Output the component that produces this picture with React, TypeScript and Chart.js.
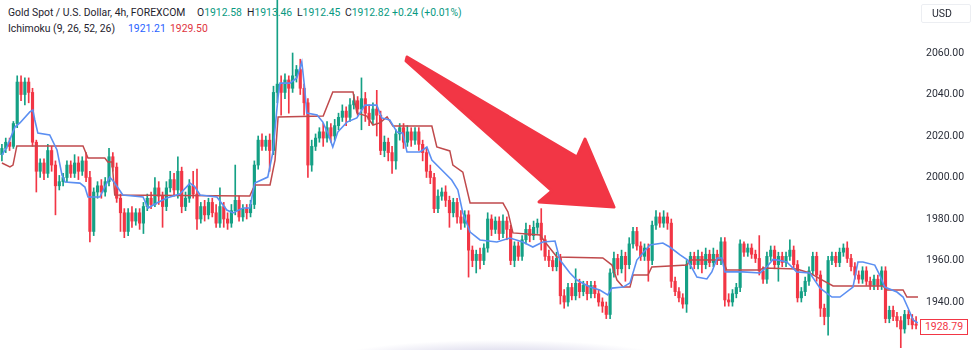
import React, { useEffect, useRef } from "react";
import { Chart, registerables } from "chart.js";
Chart.register(...registerables);

const opens = [
  2011,2014,2017,2015,2026,2046,2040,2046,2041,2017,
  2003,2007,2002,2013,2006,1996,1998,2000,2006,2002,
  2007,2003,2008,2000,1974,1993,1996,1993,1998,2010,
  2005,1990,1983,1974,1983,1979,1983,1978,1986,1990,
  1987,1995,1991,1986,1995,1999,1994,2003,1986,1990,
  1996,1992,1980,1986,1982,1988,1983,1978,1986,1980,
  1978,1984,1989,1981,1985,1983,1987,2006,2018,2015,
  2018,2013,2041,2045,2041,2047,2043,2049,2052,2043,
  2036,2006,2015,2019,2022,2019,2024,2020,2025,2029,
  2032,2029,2035,2037,2033,2038,2031,2028,2033,2030,
  2013,2017,2012,2008,2021,2024,2017,2022,2018,2022,
  2016,2012,2003,2000,1985,1991,1993,1989,1983,1988,
  1981,1978,1982,1965,1960,1963,1960,1966,1980,1975,
  1979,1973,1979,1975,1960,1967,1962,1970,1975,1972,
  1976,1978,1970,1962,1960,1957,1961,1943,1940,1947,
  1943,1949,1945,1948,1944,1948,1944,1940,1938,1934,
  1954,1961,1956,1962,1958,1968,1974,1967,1962,1966,
  1960,1977,1981,1978,1981,1978,1950,1945,1942,1939,
  1958,1962,1958,1962,1958,1963,1959,1963,1960,1969,
  1941,1940,1944,1947,1968,1964,1966,1963,1961,1955,
  1951,1962,1965,1958,1962,1959,1962,1965,1958,1942,
  1945,1950,1955,1962,1953,1937,1933,1960,1962,1959,
  1964,1966,1961,1957,1953,1951,1955,1950,1948,1951,
  1948,1955,1932,1936,1933,1931,1927,1934,1932,1929,
];

const highs = [
  2016,2019,2019,2027,2049,2049,2048,2048,2043,2018,
  2009,2009,2016,2015,2008,2001,2002,2008,2008,2011,
  2010,2010,2012,2003,1995,1998,1999,2000,2014,2012,
  2007,1992,1985,1985,1986,1985,1985,1988,1992,1993,
  2000,1998,1993,1998,2003,2002,2010,2005,1993,1999,
  2003,2004,1988,1989,1990,1990,1987,1995,1988,1983,
  1987,2006,1991,1987,1987,1989,2008,2020,2021,2020,
  2021,2044,2086,2049,2050,2049,2060,2054,2057,2045,
  2038,2018,2021,2024,2026,2027,2026,2028,2031,2035,
  2034,2038,2040,2039,2048,2041,2035,2036,2042,2032,
  2020,2019,2015,2023,2026,2026,2025,2024,2024,2024,
  2018,2014,2006,2002,1994,1995,1996,1991,1990,1990,
  1984,1984,1984,1967,1965,1966,1968,1983,1982,1981,
  1981,1982,1981,1977,1969,1969,1972,1978,1977,1979,
  1980,1985,1972,1965,1962,1964,1963,1946,1949,1949,
  1956,1951,1950,1950,1950,1950,1946,1942,1940,1956,
  1964,1963,1965,1964,1971,1976,1976,1969,1968,1968,
  1979,1984,1983,1984,1983,1980,1952,1947,1944,1960,
  1964,1964,1965,1964,1966,1965,1966,1965,1971,1971,
  1944,1946,1949,1970,1969,1968,1968,1965,1972,1957,
  1964,1967,1967,1964,1964,1964,1970,1967,1960,1947,
  1952,1957,1964,1964,1955,1939,1962,1964,1964,1966,
  1968,1969,1963,1959,1955,1957,1957,1952,1953,1953,
  1957,1957,1938,1938,1935,1933,1936,1936,1934,1933,
];

const lows = [
  2008,2012,2013,2014,2024,2037,2035,2036,2015,1993,
  2000,1999,2000,2003,1982,1994,1996,1998,2000,2000,
  1999,2001,1998,1969,1972,1990,1990,1991,1996,2003,
  1988,1974,1971,1972,1976,1977,1975,1973,1984,1985,
  1986,1987,1976,1984,1993,1991,1990,1983,1984,1988,
  1990,1975,1978,1979,1980,1981,1976,1976,1976,1975,
  1976,1982,1979,1979,1980,1981,1985,2004,2013,2013,
  2003,2011,2036,2030,2038,2031,2041,2046,2040,2030,
  2000,2003,2013,2017,2015,2017,2017,2018,2023,2027,
  2025,2027,2033,2030,2023,2027,2025,2026,2020,2011,
  2010,2008,2002,2004,2018,2014,2015,2015,2016,2013,
  2008,2000,1997,1983,1983,1989,1986,1976,1981,1978,
  1975,1976,1952,1957,1954,1956,1958,1964,1972,1973,
  1970,1971,1970,1958,1957,1960,1960,1968,1969,1970,
  1973,1965,1960,1957,1955,1955,1939,1937,1938,1941,
  1941,1942,1943,1941,1942,1942,1938,1935,1932,1932,
  1952,1953,1954,1950,1956,1966,1965,1960,1960,1950,
  1958,1975,1976,1976,1975,1947,1943,1940,1937,1935,
  1956,1956,1956,1954,1956,1957,1957,1958,1958,1938,
  1938,1938,1942,1945,1962,1962,1961,1959,1953,1949,
  1949,1960,1956,1950,1957,1957,1960,1956,1940,1940,
  1943,1948,1953,1950,1933,1929,1924,1958,1957,1957,
  1962,1959,1955,1951,1949,1949,1948,1946,1946,1946,
  1946,1930,1930,1931,1928,1918,1925,1929,1927,1927,
];

const closes = [
  2014,2017,2015,2026,2046,2040,2046,2041,2017,2003,
  2007,2002,2013,2006,1996,1998,2000,2006,2002,2007,
  2003,2008,2000,1974,1993,1996,1993,1998,2010,2005,
  1990,1983,1974,1983,1979,1983,1978,1986,1990,1987,
  1995,1991,1986,1995,1999,1994,2003,1986,1990,1996,
  1992,1980,1986,1982,1988,1983,1978,1986,1980,1978,
  1984,1989,1981,1985,1983,1987,2006,2018,2015,2018,
  2013,2041,2045,2041,2047,2043,2049,2052,2043,2036,
  2006,2015,2019,2022,2019,2024,2020,2025,2029,2032,
  2029,2035,2037,2033,2038,2031,2028,2033,2030,2013,
  2017,2012,2008,2021,2024,2017,2022,2018,2022,2016,
  2012,2003,2000,1985,1991,1993,1989,1983,1988,1981,
  1978,1982,1965,1960,1963,1960,1966,1980,1975,1979,
  1973,1979,1975,1960,1967,1962,1970,1975,1972,1976,
  1978,1970,1962,1960,1957,1961,1943,1940,1947,1943,
  1949,1945,1948,1944,1948,1944,1940,1938,1934,1954,
  1961,1956,1962,1958,1968,1974,1967,1962,1966,1960,
  1977,1981,1978,1981,1978,1950,1945,1942,1939,1958,
  1962,1958,1962,1958,1963,1959,1963,1960,1969,1941,
  1940,1944,1947,1968,1964,1966,1963,1961,1955,1951,
  1962,1965,1958,1962,1959,1962,1965,1958,1942,1945,
  1950,1955,1962,1953,1937,1933,1960,1962,1959,1964,
  1966,1961,1957,1953,1951,1955,1950,1948,1951,1948,
  1955,1932,1936,1933,1931,1927,1934,1932,1929,1928.79,
];

// Ichimoku Tenkan-sen (blue) read at its turning points: bar index / value
const tenkanIdx = [
  0,1.3,3.4,4.7,7.3,8.1,8.6,9.4,12.5,14.4,15.7,16.5,20.4,21.7,22.5,25.6,28.2,29.5,31.6,36.9,
  38.2,40.5,43.1,46.5,49.2,50.5,51.8,56.2,58.8,60.4,63,64.8,66.1,69.5,70.8,72.2,72.7,75.3,77.1,78.4,
  79.2,79.7,82.4,83.9,85.2,86.5,87.8,90.2,92.8,94.9,98,99.3,101.4,103.3,104.8,105.9,109.3,111.1,112.4,115,
  117.6,119.2,120.5,122.4,125,129.4,132.8,136.2,138.8,141.4,144.6,145.9,148.5,150.3,153.7,156.3,158.4,159.5,162.4,164.2,
  166,167.6,169.4,172.8,174.6,177.3,179.3,181.7,184.3,185.6,187,188.2,189,193.7,198.2,200,201.6,202.9,205.2,207.8,
  211.2,213.9,217,219.1,222.5,223.8,225.1,228.2,229.5,230.8,234,235.6,236.9,238.2,239.5,
];
const tenkanVal = [
  2010.8,2014.7,2024.3,2026.3,2031.6,2032.5,2027.7,2021.4,2020.5,2013.3,2001.2,1997.8,1997.3,1995.4,1990.6,1990.6,2000.2,1997.3,1991.6,1990.6,
  1985.3,1987.7,1990.1,1992.0,1997.3,1995.4,1991.6,1990.6,1984.3,1982.9,1985.3,1985.3,1997.3,2000.2,2011.8,2038.8,2045.5,2045.5,2048.0,2055.7,
  2042.2,2031.1,2030.1,2026.7,2021.4,2014.7,2021.9,2026.7,2028.7,2034.9,2034.9,2028.7,2027.7,2021.9,2021.4,2012.3,2012.3,2014.7,2008.4,2003.6,
  1998.8,1994.0,1982.9,1973.7,1969.9,1968.9,1970.8,1968.9,1966.5,1968.9,1969.4,1960.2,1954.0,1950.6,1947.2,1945.8,1943.4,1946.7,1947.2,1949.2,
  1960.2,1963.6,1967.5,1968.4,1966.5,1962.7,1960.2,1952.0,1951.1,1954.5,1961.2,1961.2,1954.5,1954.5,1954.0,1957.0,1960.5,1960.2,1959.3,1954.5,
  1954.0,1946.7,1942.4,1942.4,1947.2,1959.3,1959.3,1957.8,1953.0,1947.2,1944.8,1942.4,1937.1,1931.3,1929.9,
];

// Ichimoku Kijun-sen (red) read at its step corners: bar index / value
const kijunIdx = [
  0,2.1,2.9,3.9,21.2,22.5,26.9,27.7,28.8,29.5,64.8,66.1,70.1,71.4,72.2,84,86.5,91.8,92.8,95.4,
  97,98.8,100.7,102.2,112.4,113.7,117.1,117.9,120.5,122.4,131,132.3,133.6,140.7,142,145.1,157.1,159.5,160.8,162.4,
  164.2,165,168.9,169.9,179.1,179.9,188.5,189.5,198.2,199,207.8,211.2,213.9,217.3,230.3,231.4,235.6,236.6,239.5,
];
const kijunVal = [
  2007.0,2005.1,2006.0,2015.2,2015.2,2009.4,2009.4,2007.5,2007.5,1991.6,1991.1,1996.4,1996.4,2008.4,2029.2,2029.6,2041.2,2041.2,2031.1,2029.6,
  2025.3,2026.3,2029.2,2024.8,2024.8,2014.7,2012.8,2006.0,2002.6,1987.7,1987.7,1983.4,1973.3,1972.3,1968.9,1961.7,1961.2,1957.8,1950.6,1947.2,
  1947.2,1953.0,1953.0,1956.9,1957.8,1960.2,1960.2,1955.4,1955.4,1956.4,1955.9,1954.0,1951.1,1947.7,1947.7,1945.8,1945.8,1942.4,1942.4,
];

const yTicks = [1940, 1960, 1980, 2000, 2020, 2040, 2060];
const lastPrice = "1928.79";

const UP = "#14a085";
const DOWN = "#f23645";
const FONT = "Roboto, 'Liberation Sans', sans-serif";
const TXT = "#1e222d";

export default function App() {
  const ref = useRef<HTMLCanvasElement>(null);

  useEffect(() => {
    const colors = opens.map((o, i) => (closes[i] >= o ? UP : DOWN));
    const chart = new Chart(ref.current as HTMLCanvasElement, {
      type: "bar",
      data: {
        datasets: [
          {
            type: "line",
            data: tenkanIdx.map((x, i) => ({ x, y: tenkanVal[i] })),
            borderColor: "#5b8ff2",
            borderWidth: 1.6,
            pointRadius: 0,
            tension: 0,
            order: 0,
          } as any,
          {
            type: "line",
            data: kijunIdx.map((x, i) => ({ x, y: kijunVal[i] })),
            borderColor: "#c04a4c",
            borderWidth: 1.5,
            pointRadius: 0,
            tension: 0,
            order: 1,
          } as any,
          {
            type: "bar",
            data: opens.map((o, i) => ({ x: i, y: [o, closes[i]] })),
            backgroundColor: colors,
            barThickness: 2.5,
            minBarLength: 1,
            grouped: false,
            order: 2,
          } as any,
          {
            type: "bar",
            data: lows.map((l, i) => ({ x: i, y: [l, highs[i]] })),
            backgroundColor: colors,
            barThickness: 1,
            grouped: false,
            order: 3,
          } as any,
        ],
      },
      options: {
        animation: false,
        responsive: false,
        maintainAspectRatio: false,
        events: [],
        layout: { padding: 0 },
        plugins: { legend: { display: false }, tooltip: { enabled: false } },
        scales: {
          x: { type: "linear", min: -0.5, max: 239.5, display: false, offset: false },
          y: {
            position: "right",
            min: 1916.87,
            max: 2085.54,
            grid: { display: false, drawTicks: false },
            border: { display: false },
            ticks: {
              stepSize: 20,
              includeBounds: false,
              padding: 8,
              color: "#2a2e39",
              font: { family: FONT, size: 10.5 },
              callback: (v: any) => Number(v).toFixed(2),
            },
            afterBuildTicks: (s: any) => {
              s.ticks = yTicks.map((v) => ({ value: v }));
            },
            afterFit: (s: any) => {
              s.width = 57;
              s.paddingTop = 0;
              s.paddingBottom = 0;
            },
          } as any,
        },
      } as any,
    });
    return () => chart.destroy();
  }, []);

  const abs = (l: number, t: number, extra: any = {}) => ({
    position: "absolute" as const,
    left: l,
    top: t,
    whiteSpace: "pre" as const,
    ...extra,
  });
  const G = "#089981";

  return (
    <div
      style={{
        position: "absolute",
        left: 0,
        top: 0,
        width: 975,
        height: 350,
        background: "#fff",
        overflow: "hidden",
        fontFamily: FONT,
        fontSize: 10.4,
        color: TXT,
        lineHeight: "14px",
      }}
    >
      <span style={abs(8, 6)}>Gold Spot / U.S. Dollar, 4h, FOREXCOM</span>
      <span style={abs(197, 6)}>O<span style={{ color: G }}>1912.58</span></span>
      <span style={abs(247, 6)}>H<span style={{ color: G }}>1913.46</span></span>
      <span style={abs(297, 6)}>L<span style={{ color: G }}>1912.45</span></span>
      <span style={abs(345, 6)}>C<span style={{ color: G }}>1912.82</span></span>
      <span style={abs(392, 6, { color: G })}>+0.24 (+0.01%)</span>
      <span style={abs(8, 22)}>Ichimoku (9, 26, 52, 26)</span>
      <span style={abs(128, 22, { color: "#2962ff" })}>1921.21</span>
      <span style={abs(170, 22, { color: "#e0343e" })}>1929.50</span>

      <div
        style={abs(330, 320, {
          width: 340,
          height: 40,
          background:
            "radial-gradient(ellipse 50% 50% at 50% 100%, rgba(190,188,220,0.85), rgba(255,255,255,0))",
        })}
      />

      <canvas
        ref={ref}
        width={975}
        height={350}
        style={{ position: "absolute", left: 0, top: 0, width: 975, height: 350 }}
      />

      <svg
        width={975}
        height={350}
        style={{ position: "absolute", left: 0, top: 0, pointerEvents: "none" }}
      >
        <polygon
          points="407,57 577,157 585,139 614,207 539,202 552,191 406,61"
          fill="#f23645"
          stroke="#f23645"
          strokeWidth={3}
          strokeLinejoin="round"
        />
      </svg>

      <div
        style={abs(921, 4, {
          width: 50,
          height: 19,
          boxSizing: "border-box",
          border: "1px solid #eceef2",
          borderRadius: 2,
          paddingLeft: 10,
          lineHeight: "17px",
          fontSize: 10.5,
        })}
      >
        USD
      </div>

      <div
        style={abs(920, 319, {
          width: 48,
          height: 16,
          boxSizing: "border-box",
          border: "1px solid #f23645",
          background: "#fff",
          color: "#f23645",
          textAlign: "center",
          lineHeight: "14px",
          fontSize: 10.5,
        })}
      >
        {lastPrice}
      </div>
    </div>
  );
}
